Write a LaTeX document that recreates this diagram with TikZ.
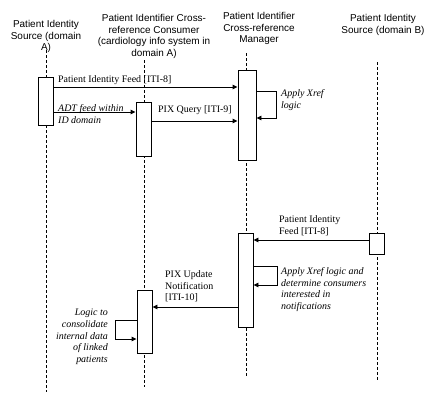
\documentclass[tikz,border=0pt]{standalone}
\usepackage{fontspec}
\setmainfont{Liberation Serif}
\newfontfamily\hdrfont{Liberation Sans}
\usetikzlibrary{arrows.meta}
\begin{document}
\begin{tikzpicture}[x=1bp,y=-1bp,
  hdr/.style={font=\hdrfont\fontsize{10}{11.7}\selectfont,align=center,inner sep=0pt},
  lbl/.style={font=\fontsize{10}{11.7}\selectfont,align=left,inner sep=0pt,anchor=west},
  ilbl/.style={font=\itshape\fontsize{10}{11.7}\selectfont,align=left,inner sep=0pt,anchor=west},
  act/.style={draw,line width=0.9bp,fill=white,minimum width=15bp,inner sep=0pt},
  life/.style={dashed,line width=0.6bp,dash pattern=on 3bp off 2bp},
  msg/.style={line width=0.9bp,-{Triangle[length=5bp,width=4.5bp]}}]
\useasboundingbox (0,0) rectangle (437,404);
% headers
\node[hdr] (ha) at (46,36.5) {Patient Identity\\Source (domain\\A)};
\node[hdr] (hc) at (154,36.5) {Patient Identifier Cross-\\reference Consumer\\(cardiology info system in\\domain A)};
\node[hdr] (hm) at (259,28.5) {Patient Identifier\\Cross-reference\\Manager};
\node[hdr] (hb) at (383,25) {Patient Identity\\Source (domain B)};
% lifeline ends
\coordinate (ta) at (46,50); \coordinate (ea) at (46,392);
\coordinate (tc) at (144,60); \coordinate (ec) at (144,387);
\coordinate (tm) at (246,53); \coordinate (em) at (246,377);
\coordinate (tb) at (377,62); \coordinate (eb) at (377,382);
\draw[life] (ta) -- (ea);
\draw[life] (tc) -- (ec);
\draw[life] (tm) -- (em);
\draw[life] (tb) -- (eb);
% activation boxes
\node[act,minimum width=15bp,minimum height=48bp] (aa) at (45.5,101) {};
\node[act,minimum width=15bp,minimum height=54bp] (c1) at (143.5,129) {};
\node[act,minimum width=18bp,minimum height=90bp] (m1) at (247,115) {};
\node[act,minimum width=15bp,minimum height=94bp] (m2) at (245.5,280) {};
\node[act,minimum width=15bp,minimum height=21bp] (bb) at (376.5,243.5) {};
\node[act,minimum width=15bp,minimum height=63bp] (c2) at (144.5,321.5) {};
% rows
\coordinate (r1) at (0,87);
\coordinate (r2) at (0,112);
\coordinate (r3) at (0,121);
\coordinate (r4) at (0,240);
\coordinate (r5) at (0,307);
% messages
\draw[msg] (aa.east |- r1) -- (m1.west |- r1);
\node[lbl] (l1) at (58,80.5) {Patient Identity Feed [ITI-8]};
\draw[msg] (aa.east |- r2) -- (c1.west |- r2);
\node[ilbl] (l2) at (58,114) {ADT feed within\\ID domain};
\draw[msg] (c1.east |- r3) -- (m1.west |- r3);
\node[lbl] (l3) at (158,110) {PIX Query [ITI-9]};
% self loop 1
\coordinate (s1a) at (276,91); \coordinate (s1b) at (276,118);
\draw[msg] (m1.east |- s1a) -- (s1a) -- (s1b) -- (m1.east |- s1b);
\node[ilbl] (l4) at (281,100) {Apply Xref\\logic};
% B feed
\draw[msg] (bb.west |- r4) -- (m2.east |- r4);
\node[lbl] (l5) at (279,226) {Patient Identity\\Feed [ITI-8]};
% self loop 2
\coordinate (s2a) at (277,266); \coordinate (s2b) at (277,285);
\draw[msg] (m2.east |- s2a) -- (s2a) -- (s2b) -- (m2.east |- s2b);
\node[ilbl] (l6) at (281,289.5) {Apply Xref logic and\\determine consumers\\interested in\\notifications};
% PIX update
\draw[msg] (m2.west |- r5) -- (c2.east |- r5);
\node[lbl] (l7) at (165,286.5) {PIX Update\\Notification\\{}[ITI-10]};
% self loop 3
\coordinate (s3a) at (115,320); \coordinate (s3b) at (115,339);
\draw[msg] (c2.west |- s3a) -- (s3a) -- (s3b) -- (c2.west |- s3b);
\node[ilbl,align=right,anchor=east] (l8) at (108,337) {Logic to\\consolidate\\internal data\\of linked\\patients};
\end{tikzpicture}
\end{document}
